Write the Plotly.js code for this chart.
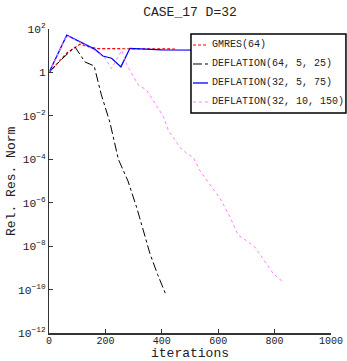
<!DOCTYPE html>
<html>
<head>
<meta charset="utf-8">
<script src="https://cdn.plot.ly/plotly-3.0.1.min.js"></script>
<style>html,body{margin:0;padding:0;background:#fff;}#chart{width:347px;height:361px;}</style>
</head>
<body>
<div id="chart"></div>
<script>
// GMRES(64)
const gmresX = [0, 64, 110, 150, 175, 300, 447];
const gmresY = [1, 8, 20, 14, 12.5, 12, 12];
// DEFLATION(64, 5, 25)
const def1X = [0, 40, 92, 128, 160, 185, 216, 246, 280, 311, 335, 358, 385, 414];
const def1Y = [1, 3.5, 15, 3, 2, 0.1, 5e-3, 1e-4, 1e-5, 6e-7, 5e-8, 4.5e-9, 5e-10, 6e-11];
// DEFLATION(32, 5, 75)
const def2X = [0, 63, 163, 191, 222, 255, 287, 400, 600];
const def2Y = [1, 52, 11.5, 5.7, 4.5, 1.8, 12.9, 11, 10.7];
// DEFLATION(32, 10, 150)
const def3X = [0, 63, 160, 199, 222, 258, 276, 300, 317, 346, 375, 406, 423, 465, 488, 512, 535, 570, 606, 642, 671, 700, 730, 742, 770, 795, 829];
const def3Y = [1, 50, 11, 4.5, 1.5, 10.7, 2.2, 0.6, 0.26, 0.155, 0.04, 9e-3, 2.2e-3, 3.5e-4, 1.9e-4, 1.2e-4, 3e-5, 7e-6, 1.6e-6, 2.2e-7, 3.2e-8, 1.8e-8, 9e-9, 5.5e-9, 1.6e-9, 5.5e-10, 2.3e-10];
const names = ['GMRES(64)', 'DEFLATION(64, 5, 25)', 'DEFLATION(32, 5, 75)', 'DEFLATION(32, 10, 150)'];
const titleText = 'CASE_17 D=32';
const xTitle = 'iterations';
const yTitle = 'Rel. Res. Norm';

const mono = 'Liberation Mono, DejaVu Sans Mono, monospace';
const styles = [
  {color: '#ff0000', dash: '3px,2px', width: 1.2},
  {color: '#000000', dash: 'dashdot', width: 1},
  {color: '#0000ff', width: 1.3},
  {color: '#ff80ff', dash: 'dot', width: 1}
];
const xs = [gmresX, def1X, def2X, def3X];
const ys = [gmresY, def1Y, def2Y, def3Y];
const traces = names.map((n, i) => ({x: xs[i], y: ys[i], name: n, mode: 'lines', line: styles[i]}));

// custom legend box (paper coords)
const lg = {x0: 0.5035, x1: 1.053, y0: 0.7237, y1: 0.9836, sx0: 0.5106, sx1: 0.5638, tx: 0.5709,
            rows: [0.9474, 0.8849, 0.8224, 0.7599]};
const shapes = [{type: 'rect', xref: 'paper', yref: 'paper', x0: lg.x0, x1: lg.x1, y0: lg.y0, y1: lg.y1,
                 fillcolor: '#fff', line: {color: '#000', width: 1.5}, layer: 'above'}];
const annotations = [];
names.forEach((n, i) => {
  shapes.push({type: 'line', xref: 'paper', yref: 'paper', x0: lg.sx0, x1: lg.sx1, y0: lg.rows[i], y1: lg.rows[i],
               line: styles[i], layer: 'above'});
  annotations.push({xref: 'paper', yref: 'paper', x: lg.tx, y: lg.rows[i], xanchor: 'left', yanchor: 'middle',
                    text: n, showarrow: false, font: {family: mono, size: 10, color: '#222'}});
});
annotations.push({xref: 'paper', yref: 'paper', x: -0.135, y: 0.5, xanchor: 'center', yanchor: 'middle',
                  textangle: -90, text: yTitle, showarrow: false, font: {family: mono, size: 13, color: '#222'}});

const layout = {
  width: 347, height: 361,
  margin: {l: 49, r: 16, t: 29, b: 28, autoexpand: false},
  paper_bgcolor: '#fff', plot_bgcolor: '#fff',
  font: {family: mono, size: 10, color: '#222'},
  title: {text: titleText, font: {family: mono, size: 13, color: '#222'}, x: 0.5, xref: 'paper', y: 0.968, yref: 'container', yanchor: 'middle'},
  showlegend: false,
  shapes: shapes,
  annotations: annotations,
  xaxis: {range: [0, 1000], dtick: 200, tick0: 0, ticks: 'inside', ticklen: 4, tickcolor: '#333',
          showline: true, linecolor: '#333', linewidth: 1.5, showgrid: false, zeroline: false, automargin: true,
          ticklabelstandoff: -3,
          tickfont: {family: mono, size: 10, color: '#222'},
          title: {text: xTitle, font: {family: mono, size: 13, color: '#222'}, standoff: 0}},
  yaxis: {type: 'log', range: [-12, 2], dtick: 2, ticks: 'inside', ticklen: 4, tickcolor: '#333',
          exponentformat: 'power', showline: true, linecolor: '#333', linewidth: 1.5, showgrid: false, zeroline: false, automargin: false,
          tickfont: {family: mono, size: 9, color: '#222'}}
};
Plotly.newPlot('chart', traces, layout, {displayModeBar: false, staticPlot: true});
</script>
</body>
</html>
